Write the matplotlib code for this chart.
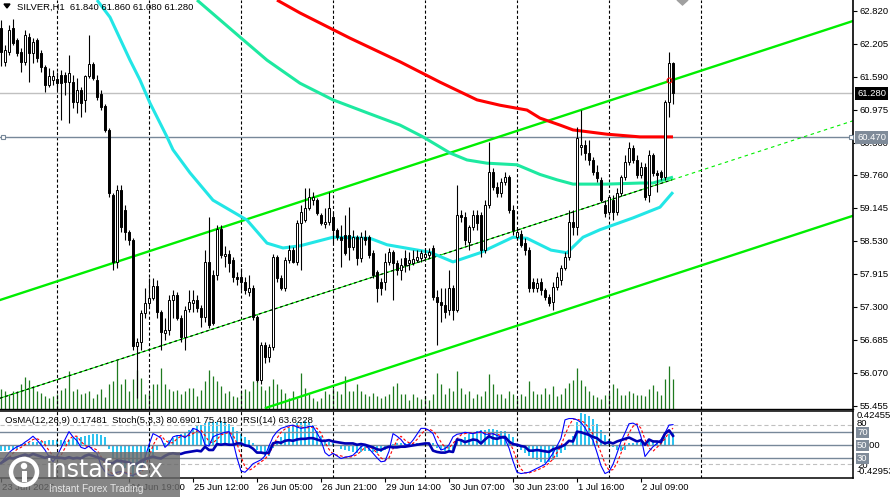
import matplotlib
matplotlib.use('Agg')
import matplotlib.pyplot as plt
from matplotlib.patches import Rectangle, Circle, Polygon
import numpy as np

plt.rcParams['font.family'] = ['Liberation Sans', 'DejaVu Sans']
plt.rcParams['lines.scale_dashes'] = False

# ---------------- data ----------------
opens = [62.50,61.87,62.05,62.50,62.28,62.05,61.87,62.33,62.03,62.28,
         62.03,61.77,61.44,61.53,61.55,61.62,61.62,61.49,61.49,61.12,
         61.34,61.16,61.60,61.83,61.53,61.27,61.05,60.60,59.39,58.14,
         59.48,59.11,58.70,58.55,56.57,56.65,57.19,57.37,57.47,57.69,
         57.21,56.82,56.87,57.43,57.52,57.10,56.74,57.26,57.37,57.43,
         57.28,57.11,58.14,57.90,57.90,58.75,58.25,58.29,58.18,57.86,
         57.86,57.77,57.58,57.65,57.11,55.94,56.59,56.37,56.55,58.23,
         57.84,57.65,58.18,58.36,58.14,58.87,58.92,59.14,59.29,59.29,
         59.01,58.85,58.88,58.98,58.74,58.60,58.64,58.64,58.42,58.60,
         58.21,58.60,58.60,58.31,57.95,57.77,57.77,58.14,58.33,58.12,
         57.99,58.21,58.12,58.12,58.18,58.21,58.23,58.27,58.40,57.49,
         57.39,57.34,57.24,57.65,57.24,59.01,58.98,58.51,58.79,59.01,
         59.01,58.36,59.20,59.82,59.54,59.42,59.63,59.72,59.11,58.60,
         58.66,58.49,58.36,57.77,57.65,57.77,57.62,57.49,57.39,57.67,
         57.80,58.03,58.23,58.88,58.79,60.28,60.32,60.17,60.04,59.82,
         59.67,59.20,59.07,59.29,59.07,59.42,59.72,60.00,60.26,60.04,
         59.76,59.91,59.39,60.13,59.80,59.82,59.72,61.12,61.84]
highs = [62.65,62.18,62.56,62.67,62.31,62.13,62.46,62.41,62.31,62.31,
         62.09,61.81,61.75,61.72,61.68,61.72,61.68,62.00,61.62,61.57,
         61.40,61.62,62.37,61.87,61.62,61.34,61.08,60.64,59.42,59.57,
         59.57,59.20,58.74,58.59,56.72,57.24,57.65,57.84,57.84,57.80,
         57.24,57.10,57.52,57.62,57.58,57.15,57.32,57.62,57.62,57.52,
         57.34,58.36,58.98,57.99,58.83,58.83,58.44,58.36,58.23,57.95,
         58.03,57.86,57.90,57.71,57.15,56.65,56.65,56.61,58.29,58.27,
         57.90,58.23,58.46,58.42,58.92,59.20,59.52,59.52,59.44,59.33,
         59.05,59.14,59.44,59.07,58.77,58.83,59.01,59.16,58.74,58.64,
         58.70,58.74,58.64,58.36,57.99,57.84,58.31,58.40,58.36,58.18,
         58.21,58.36,58.33,58.36,58.36,58.36,58.40,58.40,58.46,57.62,
         57.65,57.65,57.99,57.71,59.57,59.11,59.07,58.83,59.11,59.11,
         59.07,59.29,60.37,59.89,59.63,59.70,59.82,59.76,59.20,58.77,
         58.74,58.59,58.42,57.84,57.84,57.84,57.65,57.54,57.77,57.95,
         58.08,58.33,59.11,59.11,60.65,60.97,60.41,60.41,60.09,59.95,
         59.72,59.29,59.39,59.39,59.52,59.76,60.13,60.37,60.32,60.13,
         60.00,59.98,60.23,60.17,59.85,59.85,61.16,62.05,61.86]
lows = [61.79,61.79,62.00,62.18,61.98,61.68,61.81,61.49,61.85,61.87,
        61.68,61.31,61.40,61.44,61.34,60.79,61.25,60.73,61.01,60.92,
        60.84,60.93,61.57,61.53,61.16,60.97,60.56,59.35,57.99,58.03,
        58.70,58.55,58.46,56.50,55.60,56.50,57.10,57.32,57.43,57.10,
        56.50,56.69,56.78,57.10,57.06,56.65,56.50,57.21,57.21,57.21,
        56.93,57.02,56.91,56.96,57.80,58.21,58.05,57.95,57.77,57.71,
        57.62,57.54,57.50,57.06,55.90,55.86,56.26,56.28,56.50,57.77,
        57.62,57.60,58.12,58.12,58.08,57.99,58.88,59.11,59.20,59.01,
        58.83,58.77,58.83,58.49,58.55,58.05,58.27,58.18,58.36,58.08,
        58.14,58.46,58.21,57.84,57.39,57.52,57.62,58.08,57.43,57.90,
        57.80,57.95,57.99,58.08,58.14,58.14,58.18,58.21,57.43,56.59,
        57.02,57.10,57.15,57.06,57.21,58.88,58.46,58.36,58.74,58.74,
        58.23,58.31,59.14,59.48,59.35,59.35,59.57,59.05,58.64,58.55,
        58.42,58.27,57.58,57.58,57.58,57.52,57.43,57.32,57.24,57.62,
        57.71,57.99,58.18,58.64,58.64,60.13,60.04,59.95,59.76,59.63,
        59.26,58.98,59.01,58.92,59.01,59.37,59.67,59.95,59.98,59.70,
        59.70,59.29,59.26,59.74,59.44,59.67,59.67,60.84,61.08]
closes = [62.05,62.09,62.46,62.22,62.03,61.87,62.37,62.03,62.24,61.94,
          61.77,61.44,61.60,61.60,61.47,61.47,61.49,61.66,61.12,61.34,
          61.10,61.60,61.83,61.57,61.21,61.03,60.60,59.42,58.14,59.48,
          58.79,58.70,58.55,56.57,56.65,57.19,57.37,57.47,57.69,57.21,
          56.83,56.87,57.43,57.52,57.10,56.74,57.24,57.39,57.43,57.28,
          57.11,58.14,56.96,57.00,58.75,58.27,58.29,58.12,57.86,57.82,
          57.77,57.62,57.65,57.11,55.94,56.59,56.37,56.55,58.23,57.84,
          57.65,58.18,58.36,58.14,58.87,59.07,59.14,59.35,59.35,59.05,
          58.87,58.88,59.14,58.74,58.60,58.55,58.31,58.42,58.60,58.21,
          58.60,58.55,58.27,57.90,57.65,57.65,58.14,58.33,58.12,57.99,
          58.08,58.08,58.18,58.19,58.23,58.31,58.29,58.33,57.49,57.39,
          57.34,57.21,57.65,57.24,59.01,58.98,58.55,58.79,59.01,58.87,
          58.36,59.20,59.82,59.54,59.42,59.63,59.72,59.11,58.74,58.70,
          58.46,58.36,57.65,57.65,57.75,57.62,57.49,57.37,57.67,57.86,
          58.03,58.23,58.88,58.79,60.45,60.32,60.17,60.04,59.82,59.70,
          59.29,59.05,59.35,59.07,59.42,59.72,60.00,60.26,60.04,59.76,
          59.91,59.35,60.13,59.80,59.76,59.72,61.12,61.85,61.28]
volumes = [20,18,15,18,18,25,32,29,23,18,16,13,11,13,15,19,21,38,18,20,15,16,18,11,15,
           20,12,25,28,49,25,30,18,30,39,31,15,16,25,25,41,25,20,18,19,15,18,21,21,13,
           19,28,39,33,28,23,16,18,13,12,18,20,18,28,30,23,19,23,30,25,20,16,11,18,11,
           36,21,15,11,8,11,18,15,21,18,15,33,18,18,25,18,15,13,16,13,11,13,15,23,26,
           15,15,9,15,12,10,13,9,15,36,25,15,21,18,38,21,15,18,11,15,13,18,35,25,15,
           15,11,18,15,11,15,13,28,18,15,15,21,15,
           23,13,15,21,26,29,41,29,23,18,14,12,10,14,16,25,21,14,14,18,16,14,14,13,20,
           24,18,14,30,43,30]

# moving averages read at sample bars
ma_fast_x = [24,27.25,32.25,34.75,37.25,41.5,43,47.25,53,61.5,66.5,70.5,74.75,83,92.25,96.5,
             107.25,113,119.75,128,131.5,137.5,141.5,145.5,149.75,158,164.75,168]
ma_fast_y = [63.02,62.70,61.90,61.53,61.10,60.47,60.23,59.80,59.29,58.92,58.49,58.40,58.44,58.60,
             58.58,58.46,58.32,58.14,58.31,58.60,58.58,58.36,58.31,58.60,58.74,58.96,59.16,59.44]
ma_mid_x = [49,59.75,66.5,74.75,83,91.5,99.75,105.5,112.25,116.5,121.5,129,134.75,139,143,151.5,159.75,163,168]
ma_mid_y = [63.02,62.33,61.90,61.47,61.16,60.92,60.69,60.47,60.17,60.04,59.98,59.95,59.77,59.67,59.59,59.59,59.61,59.61,59.72]
ma_slow_x = [69,74.75,87.25,99.75,109.75,119,124.75,131.5,134.75,139.75,143,151.5,159.75,168]
ma_slow_y = [63.02,62.78,62.31,61.87,61.49,61.16,61.06,60.97,60.82,60.69,60.60,60.52,60.47,60.47]

# channel (two anchor points each)
chan_up = ([-0.25, 213], [57.43, 62.63])
chan_lo = ([66.25, 213], [55.42, 59.00])
chan_mid = ([-0.25, 167.75], [55.60, 59.67])
chan_mid_ext = ([167.75, 213], [59.67, 60.77])

bid_price = 61.280
hline_price = 60.470
price_ticks = [62.820,62.205,61.590,60.975,60.360,59.760,59.145,58.530,57.915,57.300,56.685,56.070,55.455]
price_tick_labels = ['62.820','62.205','61.590','60.975','60.360','59.760','59.145','58.530',
                     '57.915','57.300','56.685','56.070','55.455']
day_starts = [14, 37, 60, 83, 106, 129, 152, 175]
time_label_pos = [-0.25, 31.75, 47.75, 63.75, 79.75, 95.75, 111.75, 127.75, 143.75, 159.75]
time_labels = ['23 Jun 2026', '24 Jun 19:00', '25 Jun 12:00', '26 Jun 05:00', '26 Jun 21:00',
               '29 Jun 14:00', '30 Jun 07:00', '30 Jun 23:00', '1 Jul 16:00', '2 Jul 09:00']

osma = [-0.08,-0.08,-0.07,-0.06,-0.05,
        0.01,0.02,0.03,0.04,0.04,0.05,
        0.05,0.06,0.06,0.06,0.06,0.05,
        0.07,0.09,0.10,0.11,0.12,
        0.13,0.14,0.15,0.13,0.10,
        -0.05,-0.18,-0.22,-0.26,-0.30,-0.34,-0.43,
        -0.40,-0.34,-0.27,-0.20,-0.13,-0.06,-0.01,
        0.03,0.06,0.09,0.12,
        0.14,0.17,0.20,0.22,
        0.25,0.27,0.29,0.31,0.30,0.31,0.32,0.30,0.28,
        0.24,0.19,0.14,
        0.10,0.06,0.02,
        -0.06,-0.10,-0.14,-0.15,
        -0.04,0.04,0.10,0.16,0.22,0.26,0.29,0.31,0.32,
        0.30,0.26,0.19,0.12,0.07,0.04,0.03,
        -0.02,-0.05,-0.07,-0.08,-0.09,-0.10,-0.09,-0.08,-0.08,-0.09,-0.10,-0.09,-0.06,-0.03,
        0.01,0.02,0.02,0.03,0.03,0.03,0.03,0.03,0.03,0.03,0.02,
        -0.04,-0.07,-0.08,-0.08,-0.07,
        0.04,0.08,0.11,0.14,0.17,0.19,0.20,0.20,0.21,0.21,0.20,0.19,0.18,0.15,0.10,
        -0.03,-0.07,-0.10,-0.14,-0.18,-0.20,-0.22,-0.24,-0.23,-0.20,-0.16,-0.11,-0.06,-0.01,
        0.12,0.30,0.42455,0.41,0.38,0.34,0.28,0.20,0.13,0.08,
        -0.03,-0.06,-0.08,-0.06,
        0.02,0.03,0.03,0.04,0.03,0.05,0.06,0.05,0.05,0.10,0.15,0.17481]
stoch_main = [22,30,38,43,47,49,54,58,63,57,
              50,42,32,24,33,45,58,70,62,56,
              46,44,48,42,37,18,9,4,3,8,
              9,7,4,3,7,12,30,50,67,64,
              60,46,52,62,64,64,61,66,75,73,
              68,50,48,62,65,67,69,70,55,30,
              10,8,14,21,24,27,33,48,62,70,
              75,77,79,80,77,75,76,78,78,68,
              57,38,33,37,33,29,31,32,34,40,
              47,50,44,37,30,24,25,40,67,63,
              58,50,50,57,66,75,75,72,67,52,
              42,44,50,62,66,67,69,68,67,69,
              70,66,66,67,64,62,59,45,25,8,
              6,7,8,11,14,17,20,28,37,48,
              60,88,90,90,88,84,76,65,57,38,
              18,6,9,20,37,55,68,82,83,80,
              62,32,40,47,52,58,68,80,80.69]
stoch_signal = [22,25,30,37,43,46,50,54,58,59,
                57,50,41,33,30,34,45,58,63,63,
                55,49,46,45,42,32,21,10,5,5,
                7,8,7,5,5,7,16,31,49,60,
                64,57,53,53,59,63,63,64,67,71,
                72,64,55,53,58,65,67,69,65,52,
                32,16,11,14,20,24,28,36,48,60,
                69,74,77,79,79,77,76,76,77,75,
                68,54,43,36,34,33,31,31,32,35,
                40,46,47,44,37,30,26,30,44,57,
                63,57,53,52,58,66,72,74,71,64,
                54,46,45,52,59,65,67,68,68,68,
                69,68,67,66,66,64,62,55,43,26,
                13,7,7,9,11,14,17,22,28,38,
                48,65,79,89,89,87,83,75,66,53,
                38,21,11,12,22,37,53,68,78,82,
                75,58,45,40,46,52,59,69,75.418]
rsi = [22,26,30,29,31,33,35,33,36,34,32,30,32,31,30,30,29,31,29,30,29,33,35,33,31,29,26,22,
       22,26,25,24,23,20,21,25,28,30,32,30,29,
       33,36,37,36,36,38,39,40,41,40,47,42,42,51,50,51,50,50,52,52,49,48,44,38,38,37,38,
       52,54,53,56,57,56,58,59,59,60,60,58,56,56,57,55,54,53,52,52,52,50,51,50,48,46,43,42,
       45,47,46,46,47,47,48,49,50,51,52,52,41,39,38,38,40,39,
       58,57,54,56,58,57,52,58,63,60,59,61,62,55,51,50,48,47,41,41,42,41,40,39,43,45,47,50,
       56,55,70,69,67,65,62,60,55,52,54,52,55,57,59,61,58,55,57,50,58,55,55,54,67,72,63.62]

# ---------------- figure ----------------
W, H = 890, 497
fig = plt.figure(figsize=(W/100, H/100), dpi=100)
fig.patch.set_facecolor('white')

def rect(x0, y0, x1, y1):
    return [x0/W, 1-y1/H, (x1-x0)/W, (y1-y0)/H]

XL = (-0.25, 213)
idx = np.arange(len(closes))
o = np.array(opens); c = np.array(closes); hi = np.array(highs); lo = np.array(lows)

# volume layer
axv = fig.add_axes(rect(0, 0, 853, 409))
axv.set_xlim(*XL); axv.set_ylim(0, 409)
axv.axis('off')
axv.vlines(idx, 0, volumes, color='#1f7a1f', lw=0.9)

# main price axes
ax = fig.add_axes(rect(0, 0, 853, 409))
ax.patch.set_alpha(0)
ax.set_xlim(*XL); ax.set_ylim(55.399, 63.021)

for d in day_starts:
    ax.axvline(d, color='black', lw=0.8, ls=(0, (2.2, 1.6)), zorder=1)

ax.axhline(bid_price, color='#c0c0c0', lw=1, zorder=1)
ax.axhline(hline_price, color='#778899', lw=1, zorder=1)
ax.plot([0.5, 212.5], [hline_price, hline_price], ls='none', marker='s', ms=3.5,
        mfc='white', mec='#778899', mew=0.8, zorder=6, clip_on=False)

ax.plot(*chan_up, color='#00ee00', lw=1.7, zorder=2)
ax.plot(*chan_lo, color='#00ee00', lw=1.7, zorder=2)
ax.plot(*chan_mid, color='#00ee00', lw=0.8, zorder=2)
ax.plot(*chan_mid, color='black', lw=0.8, ls=(0, (2, 2)), zorder=2)
ax.plot(*chan_mid_ext, color='#00ee00', lw=0.8, ls=(0, (2.5, 2.5)), zorder=2)

ax.plot(ma_slow_x, ma_slow_y, color='#ff0000', lw=2.2, zorder=3, solid_capstyle='butt')
ax.plot(ma_mid_x, ma_mid_y, color='#1de9a0', lw=2.2, zorder=3, solid_capstyle='butt')
ax.plot(ma_fast_x, ma_fast_y, color='#22e6e6', lw=2.2, zorder=3, solid_capstyle='butt')

ax.vlines(idx, lo, hi, color='black', lw=0.8, zorder=4)
bull = c >= o
body_h = np.maximum(np.abs(c - o), 0.012)
ax.bar(idx[bull], body_h[bull], bottom=np.minimum(o, c)[bull], width=0.5,
       color='white', edgecolor='black', linewidth=0.7, zorder=5)
ax.bar(idx[~bull], body_h[~bull], bottom=np.minimum(o, c)[~bull], width=0.5,
       color='black', edgecolor='black', linewidth=0.7, zorder=5)
ax.plot([167], [61.53], marker='o', ms=3.5, mfc='none', mec='red', mew=0.8, zorder=6)

ax.yaxis.tick_right()
ax.set_yticks(price_ticks)
ax.set_yticklabels(price_tick_labels)
ax.tick_params(axis='y', length=3, width=0.8, labelsize=6.8, pad=2, colors='black')
ax.set_xticks([])
for s in ['left', 'top']:
    ax.spines[s].set_visible(False)
ax.spines['right'].set_linewidth(1.2)
ax.spines['bottom'].set_linewidth(1.0)

# ---------------- indicator panel ----------------
ax3 = fig.add_axes(rect(0, 411, 853, 478))
ax3.set_xlim(*XL); ax3.set_ylim(-0.438, 0.451)
ax3.axis('off')
ax3.bar(idx, osma, width=0.7, color='#2ec3f0', linewidth=0)

ax2 = fig.add_axes(rect(0, 411, 853, 478))
ax2.patch.set_alpha(0)
ax2.set_xlim(*XL); ax2.set_ylim(-0.76, 101.5)
for lvl in (80, 20):
    ax2.axhline(lvl, color='#c0c0c0', lw=0.8, ls=(0, (3, 2)))
for lvl in (70, 50, 30):
    ax2.axhline(lvl, color='#778899', lw=1.0)
for d in day_starts:
    ax2.axvline(d, color='black', lw=0.8, ls=(0, (2.2, 1.6)))
ax2.plot(idx, stoch_signal, color='#ff0000', lw=0.8, ls=(0, (2, 1.5)))
ax2.plot(idx, stoch_main, color='#0000ff', lw=0.8)
ax2.plot(idx, rsi, color='#0000b4', lw=1.9)
ax2.set_yticks([])
ax2.set_xticks([p + 0.25 for p in time_label_pos])
ax2.tick_params(axis='x', length=3, width=0.8, labelbottom=False, direction='out')
ax2.spines['left'].set_visible(False)
for s in ['top', 'bottom', 'right']:
    ax2.spines[s].set_linewidth(1.1)

# ---------------- overlay (texts, tags, logo) ----------------
axo = fig.add_axes([0, 0, 1, 1])
axo.set_xlim(0, W); axo.set_ylim(H, 0)
axo.axis('off'); axo.patch.set_alpha(0)

FS = 6.8
axo.add_patch(Polygon([[4, 4], [10, 4], [7, 8]], closed=True, color='black'))
axo.text(17, 7.5, 'SILVER,H1  61.840 61.860 61.080 61.280', fontsize=FS, va='center', ha='left')
axo.add_patch(Polygon([[677, 0], [688, 0], [682.5, 5]], closed=True, color='#a0a0a0'))

# price tags
axo.text(857, 93.5, '61.280', fontsize=FS, va='center', ha='left', color='white',
         bbox=dict(boxstyle='square,pad=0.18', fc='black', ec='none'))
axo.text(857, 137.5, '60.470', fontsize=FS, va='center', ha='left', color='white',
         bbox=dict(boxstyle='square,pad=0.18', fc='#7f8b99', ec='none'))

# indicator labels
axo.text(5, 420.5, 'OsMA(12,26,9) 0.17481  Stoch(5,3,3) 80.6901 75.4180  RSI(14) 63.6228',
         fontsize=FS, va='center', ha='left')
axo.text(857, 416, '0.42455', fontsize=FS, va='center', ha='left')
axo.text(857, 424, '80', fontsize=FS, va='center', ha='left')
axo.text(857, 445.5, '0.000', fontsize=FS, va='center', ha='left')
axo.text(857, 465, '20', fontsize=FS, va='center', ha='left')
axo.text(857, 471, '-0.42953', fontsize=FS, va='center', ha='left')
for lab, yy in (('70', 432.5), ('50', 445.5), ('30', 458.5)):
    axo.text(857, yy, lab, fontsize=FS, va='center', ha='left', color='white',
             bbox=dict(boxstyle='square,pad=0.15', fc='#7f8b99', ec='none'))

# time labels
for pos, lab in zip(time_label_pos, time_labels):
    px = (pos + 0.25) * 4 + 1
    axo.text(px + 1, 488, lab, fontsize=FS, va='center', ha='left')

# logo
axo.add_patch(Rectangle((0, 452), 180, 45, fc='#6a6a6a', ec='none', alpha=0.82, zorder=5))
axo.add_patch(Circle((24, 472), 13, fc='none', ec='white', lw=3.2, zorder=6))
axo.add_patch(Circle((24, 466), 3.2, fc='white', ec='none', zorder=6))
axo.add_patch(Rectangle((21.5, 471), 5, 11, fc='white', ec='none', zorder=6))
axo.text(46, 470, 'instaforex', fontsize=17, color='white', va='center', ha='left', zorder=7,
         family='DejaVu Sans')
axo.text(49, 489.5, 'Instant Forex Trading', fontsize=7.2, color='#e6e6e6', va='center',
         ha='left', zorder=7)

fig.savefig('out.png', dpi=100)
